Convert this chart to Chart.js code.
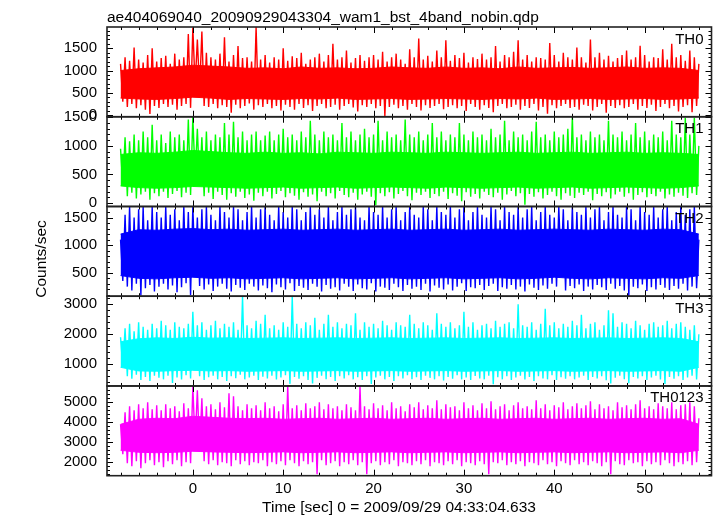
<!DOCTYPE html>
<html>
<head>
<meta charset="utf-8">
<title>WAM light curve</title>
<script src="https://cdn.jsdelivr.net/npm/chart.js@4.4.1/dist/chart.umd.min.js"></script>
<style>
  html, body { margin: 0; padding: 0; background: #fff; }
  #lc { display: block; }
</style>
</head>
<body>
<canvas id="lc" width="717" height="516"></canvas>
<script>
const plotTitle = 'ae404069040_20090929043304_wam1_bst_4band_nobin.qdp';
const xTitle = 'Time [sec] 0 = 2009/09/29 04:33:04.633';
const yTitle = 'Counts/sec';

// one peak and one trough per half second, -8 .. 56 s
const halfSeconds = [-8,-7.5,-7,-6.5,-6,-5.5,-5,-4.5,-4,-3.5,-3,-2.5,-2,-1.5,-1,-0.5,
  0,0.5,1,1.5,2,2.5,3,3.5,4,4.5,5,5.5,6,6.5,7,7.5,8,8.5,9,9.5,10,10.5,11,11.5,
  12,12.5,13,13.5,14,14.5,15,15.5,16,16.5,17,17.5,18,18.5,19,19.5,20,20.5,21,21.5,
  22,22.5,23,23.5,24,24.5,25,25.5,26,26.5,27,27.5,28,28.5,29,29.5,30,30.5,31,31.5,
  32,32.5,33,33.5,34,34.5,35,35.5,36,36.5,37,37.5,38,38.5,39,39.5,40,40.5,41,41.5,
  42,42.5,43,43.5,44,44.5,45,45.5,46,46.5,47,47.5,48,48.5,49,49.5,50,50.5,51,51.5,
  52,52.5,53,53.5,54,54.5,55,55.5,56];
// dense part of the band, every 2 s
const coreSeconds = [-8,-6,-4,-2,0,2,4,6,8,10,12,14,16,18,20,22,24,26,28,30,32,34,36,38,40,42,44,46,48,50,52,54,56];

const th0Hi = [1150,1300,1220,1520,1250,1180,1350,1500,1200,1280,
  1330,1150,1380,1250,1300,1820,1970,1700,1880,1400,
  1300,1250,1380,1750,1200,1350,1550,1280,1300,1200,
  1980,1250,1350,1180,1300,1250,1500,1220,1320,1280,
  1400,1150,1250,1300,1380,1200,1350,1600,1250,1300,
  1450,1180,1280,1350,1220,1300,1350,1250,1420,1200,
  1300,1380,1250,1150,1480,1300,1720,1250,1330,1200,
  1450,1300,1680,1220,1350,1280,1400,1180,1300,1260,
  1380,1250,1300,1550,1200,1350,1300,1420,1680,1250,
  1350,1200,1300,1280,1250,1620,1350,1200,1400,1300,
  1250,1520,1300,1180,1700,1300,1400,1250,1330,1200,
  1280,1350,1450,1250,1300,1560,1350,1200,1300,1280,
  1480,1250,1600,1300,1350,1220,1450,1300,1150];
const th0Lo = [300,180,250,150,220,120,20,200,160,250,
  180,230,120,200,250,160,650,550,200,180,
  250,150,220,180,50,230,150,200,260,120,
  220,180,250,150,200,100,230,180,120,250,
  160,220,90,200,250,150,180,230,120,200,
  250,170,80,220,180,250,150,200,-20,180,
  230,150,200,120,250,180,100,220,160,200,
  250,130,180,220,150,200,90,250,180,120,
  220,160,60,200,250,150,180,230,120,200,
  160,250,100,180,30,220,150,200,250,160,
  180,120,230,200,100,180,250,50,200,160,
  220,150,180,250,120,200,160,230,90,180,
  250,150,200,80,180,220,60,200,300];
const th0CoreHi = [1000,1040,1060,1080,1120,1100,1080,1050,1060,1040,1080,1050,1060,1040,1050,1080,1060,1050,1080,1050,1060,1040,1080,1050,1060,1070,1050,1060,1080,1050,1060,1050,1000];
const th0CoreLo = [380,360,350,370,400,380,350,370,360,350,370,360,380,350,360,370,350,360,370,360,350,370,360,380,350,360,370,350,360,370,350,360,380];

const th1Hi = [950,1150,1080,1200,1100,1250,1150,1370,1100,1200,
  1050,1250,1150,1200,1100,1460,1510,1300,1150,1250,
  1100,1200,1150,1400,1200,1420,1150,1250,1100,1200,
  1250,1100,1180,1250,1100,1200,1300,1150,1200,1100,
  1250,1150,1440,1200,1100,1250,1150,1200,1100,1400,
  1150,1250,1100,1200,1300,1150,1200,1440,1100,1250,
  1150,1200,1100,1460,1200,1150,1250,1100,1200,1400,
  1150,1250,1100,1200,1150,1400,1200,1100,1250,1150,
  1200,1100,1300,1150,1200,1440,1100,1250,1150,1200,
  1100,1250,1420,1150,1200,1100,1250,1150,1200,1300,
  1510,1150,1200,1100,1250,1150,1200,1100,1440,1200,
  1150,1250,1100,1200,1400,1150,1250,1100,1200,1150,
  1250,1100,1440,1200,1150,1490,1200,1490,1000];
const th1Lo = [300,120,180,80,150,200,60,170,120,200,
  90,160,210,100,180,140,450,300,120,180,
  70,200,140,60,170,110,200,90,150,40,
  180,120,200,80,160,210,100,170,130,60,
  190,110,150,30,200,120,170,80,210,140,
  100,180,60,150,200,110,-40,170,120,190,
  80,160,210,120,50,180,140,200,90,160,
  120,200,70,170,130,30,190,110,160,80,
  200,140,100,180,60,150,210,120,170,-30,
  160,110,190,80,140,200,120,60,170,130,
  90,180,140,200,50,160,120,190,80,150,
  200,110,170,60,140,190,100,160,120,200,
  80,150,110,180,130,90,170,140,300];
const th1CoreHi = [850,880,870,890,920,900,880,870,890,870,880,860,890,880,870,890,880,870,890,880,870,880,890,870,880,890,870,880,890,870,880,870,850];
const th1CoreLo = [300,270,260,270,290,280,270,260,270,280,260,270,280,260,270,280,270,260,280,270,260,270,280,260,270,280,260,270,280,270,260,270,300];

const th2Hi = [1100,1550,1700,1500,1650,1700,1450,1700,1600,1500,
  1700,1550,1650,1450,1700,1600,1700,1500,1650,1700,
  1550,1450,1700,1600,1500,1700,1650,1450,1600,1700,
  1500,1650,1700,1550,1450,1700,1600,1500,1700,1650,
  1450,1600,1700,1550,1650,1500,1700,1450,1600,1700,
  1550,1650,1700,1500,1450,1700,1600,1550,1700,1500,
  1650,1700,1450,1600,1700,1550,1500,1700,1650,1450,
  1700,1600,1550,1700,1500,1650,1700,1450,1600,1700,
  1550,1500,1700,1650,1450,1700,1600,1550,1700,1500,
  1650,1700,1450,1600,1700,1550,1500,1700,1650,1450,
  1700,1600,1550,1700,1500,1650,1700,1450,1600,1700,
  1550,1500,1700,1650,1450,1700,1600,1550,1700,1500,
  1650,1700,1450,1600,1700,1550,1650,1700,1100];
const th2Lo = [350,250,180,300,90,220,280,160,250,300,
  200,270,150,240,310,100,500,260,200,290,
  170,250,300,210,160,280,230,190,300,250,
  180,270,220,150,290,240,200,310,170,260,
  230,190,300,250,160,280,210,240,180,300,
  250,170,290,220,200,310,160,250,230,190,
  300,240,170,280,210,250,190,300,160,270,
  230,200,290,180,250,310,170,240,220,280,
  190,260,300,170,240,210,280,200,250,160,
  290,230,190,270,210,300,250,600,180,260,
  220,290,170,250,200,280,240,190,300,210,
  260,180,80,250,220,290,170,240,200,280,
  230,190,260,210,300,180,250,220,350];
const th2CoreHi = [1200,1280,1270,1290,1300,1280,1290,1270,1280,1290,1270,1280,1290,1270,1280,1290,1270,1280,1290,1270,1280,1290,1270,1280,1290,1280,1270,1290,1280,1270,1290,1280,1200];
const th2CoreLo = [450,400,390,410,420,400,410,390,400,410,390,400,410,390,400,410,390,400,410,390,400,410,390,400,420,400,390,410,400,390,410,400,450];

const th3Hi = [1900,2200,2350,2100,2400,2250,2150,2350,2200,2450,
  2300,2150,2400,2250,2200,2350,2750,2300,2400,2150,
  2300,2450,2200,2350,2250,2400,2150,3250,2300,2200,
  2450,2350,2650,2200,2300,2150,2400,2250,3250,2350,
  2200,2400,2300,2550,2150,2350,2650,2250,2400,2200,
  2350,2300,2700,2150,2400,2250,2350,2200,2450,2300,
  2150,2400,2300,2250,2650,2350,2200,2400,2300,2150,
  2700,2350,2250,2400,2200,2300,2750,2250,2400,2150,
  2300,2350,2200,2450,2250,2350,2400,2200,3000,2300,
  2250,2400,2150,2350,2850,2300,2400,2200,2350,2250,
  2450,2300,2650,2200,2350,2400,2150,2300,2800,2700,
  2250,2400,2350,2200,2450,2300,2150,2350,2400,2250,
  2300,2450,2200,2350,2400,2250,2150,2300,2000];
const th3Lo = [900,600,520,650,480,580,450,620,550,500,
  620,380,560,500,640,530,800,600,480,570,
  620,500,580,450,600,540,650,500,560,620,
  480,590,530,620,500,560,640,350,580,520,
  600,480,360,550,620,500,580,450,600,530,
  640,500,570,480,600,350,560,620,500,580,
  450,600,530,640,500,570,480,620,550,500,
  600,460,580,520,640,500,560,480,610,530,
  500,620,340,570,500,600,480,560,620,500,
  580,450,600,530,500,640,480,570,520,600,
  500,560,620,480,580,530,600,470,360,550,
  620,500,370,580,530,600,480,560,620,500,
  350,580,520,600,480,560,620,500,900];
const th3CoreHi = [1750,1850,1880,1860,1900,1870,1880,1860,1870,1880,1860,1870,1880,1860,1870,1880,1860,1870,1880,1860,1870,1880,1860,1870,1880,1860,1870,1880,1860,1870,1880,1860,1750];
const th3CoreLo = [900,780,770,790,800,780,790,770,780,790,770,780,790,770,780,790,770,780,790,770,780,790,770,780,790,770,780,790,770,780,790,770,900];

const th0123Hi = [3900,4500,4800,4600,4900,4700,5000,4650,4850,4600,
  4900,4700,4800,4550,4950,4700,5800,5600,5200,4800,
  4900,4650,5000,4750,5450,5300,4800,4600,4900,4700,
  4850,4600,5000,4700,4800,4550,4900,5800,4700,4850,
  4600,4950,4700,4800,5000,4650,4900,4700,4800,4600,
  4900,4750,4600,5800,4800,4650,4950,4700,4850,4600,
  5000,4700,4800,4550,4900,4750,5000,4650,4850,4700,
  5100,4650,4900,4750,4800,4600,5000,4700,4850,4600,
  4950,4700,5050,4650,4800,4900,4600,4850,5000,4700,
  4800,4650,5100,4700,4900,4600,4850,4750,5000,4650,
  4800,4950,4700,4850,5050,4650,4900,4700,4800,4600,
  5000,4750,4850,4650,4900,5100,4700,4800,4650,4950,
  4800,4700,5000,4650,4850,4900,5000,4800,4200];
const th0123Lo = [2400,1950,1800,2050,1700,1950,2100,1850,2000,1750,
  2050,1900,2100,1800,2000,1950,2900,2600,2050,1900,
  2100,1850,2000,1950,1800,2100,1900,2050,1850,2000,
  1950,2100,1800,2000,1900,2050,1850,2100,1950,1800,
  2050,1900,2000,1400,2100,1850,1950,2050,1800,2000,
  1900,2100,1850,2000,1400,1950,2050,1850,2000,1900,
  2100,1800,2000,1950,1850,2050,1900,2100,1800,2000,
  1950,1850,2050,1900,2100,1800,2000,1950,1850,2050,
  1900,1400,2000,1950,2100,1850,2000,1900,2050,1800,
  2000,1950,1850,2100,1900,2000,1800,2050,1950,1850,
  2100,1900,2000,1850,2050,1950,1800,2000,1400,2050,
  1900,1850,2100,1950,2000,1800,2050,1900,2000,1850,
  2100,1950,1800,2000,1900,2050,1850,2000,2400];
const th0123CoreHi = [3900,4150,4200,4180,4300,4250,4200,4180,4200,4150,4180,4200,4150,4180,4200,4150,4180,4200,4150,4180,4200,4150,4180,4200,4150,4180,4200,4150,4180,4200,4150,4180,3900];
const th0123CoreLo = [2600,2500,2480,2500,2550,2520,2500,2480,2500,2520,2480,2500,2520,2480,2500,2520,2480,2500,2520,2480,2500,2520,2480,2500,2520,2480,2500,2520,2480,2500,2520,2480,2600];

const timeTicks = [0, 10, 20, 30, 40, 50];
const th0Ticks = [0, 500, 1000, 1500];
const th1Ticks = [0, 500, 1000, 1500];
const th2Ticks = [500, 1000, 1500];
const th3Ticks = [1000, 2000, 3000];
const th0123Ticks = [2000, 3000, 4000, 5000];

const family = '"Liberation Sans", Arial, Helvetica, sans-serif';
const tickFont = { family: family, size: 15 };

const panels = [
  { id: 'y0', name: 'TH0', color: '#ff0000', hi: th0Hi, lo: th0Lo, coreHi: th0CoreHi, coreLo: th0CoreLo, ticks: th0Ticks, min: -40, max: 1980 },
  { id: 'y1', name: 'TH1', color: '#00ff00', hi: th1Hi, lo: th1Lo, coreHi: th1CoreHi, coreLo: th1CoreLo, ticks: th1Ticks, min: -60, max: 1510 },
  { id: 'y2', name: 'TH2', color: '#0000ff', hi: th2Hi, lo: th2Lo, coreHi: th2CoreHi, coreLo: th2CoreLo, ticks: th2Ticks, min: 76, max: 1700 },
  { id: 'y3', name: 'TH3', color: '#00ffff', hi: th3Hi, lo: th3Lo, coreHi: th3CoreHi, coreLo: th3CoreLo, ticks: th3Ticks, min: 280, max: 3265 },
  { id: 'y4', name: 'TH0123', color: '#ff00ff', hi: th0123Hi, lo: th0123Lo, coreHi: th0123CoreHi, coreLo: th0123CoreLo, ticks: th0123Ticks, min: 1330, max: 5815 }
];

function pairs(xs, ys) {
  return xs.map((x, i) => ({ x: x, y: ys[i] }));
}

// peak on the half second, trough a quarter second later
function spikes(hi, lo) {
  const pts = [];
  halfSeconds.forEach((t, i) => {
    pts.push({ x: t, y: hi[i] });
    if (i < halfSeconds.length - 1) pts.push({ x: t + 0.25, y: lo[i] });
  });
  return pts;
}

const datasets = [];
panels.forEach(p => {
  datasets.push({ data: pairs(coreSeconds, p.coreLo), yAxisID: p.id, borderColor: p.color, borderWidth: 1, pointRadius: 0, fill: false });
  datasets.push({ data: pairs(coreSeconds, p.coreHi), yAxisID: p.id, borderColor: p.color, borderWidth: 1, pointRadius: 0, fill: '-1', backgroundColor: p.color });
  datasets.push({ data: spikes(p.hi, p.lo), yAxisID: p.id, borderColor: p.color, borderWidth: 1.4, pointRadius: 0, fill: false });
});

const scales = {
  x: {
    type: 'linear', min: -9.5, max: 57.4,
    grid: { display: false, drawTicks: false }, border: { display: false },
    afterBuildTicks: s => { s.ticks = timeTicks.map(v => ({ value: v })); },
    afterFit: s => { s.height = 40.3; },
    ticks: { font: tickFont, color: '#000', padding: 4, autoSkip: false, maxRotation: 0, callback: v => String(v) }
  }
};
// left axes in a stack are laid out last-first, so TH0 goes in last to sit on top
panels.slice().reverse().forEach(p => {
  scales[p.id] = {
    type: 'linear', position: 'left', stack: 'panels', stackWeight: 1,
    min: p.min, max: p.max,
    grid: { display: false, drawTicks: false }, border: { display: false },
    afterBuildTicks: s => { s.ticks = p.ticks.map(v => ({ value: v })); },
    afterFit: s => { s.width = 107; },
    ticks: { font: tickFont, color: '#000', padding: 10, autoSkip: false, callback: v => String(v) }
  };
});

const deco = {
  id: 'deco',
  afterDraw(chart) {
    const ctx = chart.ctx;
    const xs = chart.scales.x;
    ctx.save();
    ctx.fillStyle = '#000';
    ctx.strokeStyle = '#000';
    ctx.font = '15.5px ' + family;
    ctx.textBaseline = 'alphabetic';
    ctx.textAlign = 'left';
    ctx.fillText(plotTitle, xs.left, 21.5);

    panels.forEach(p => {
      const ys = chart.scales[p.id];
      const left = xs.left, right = xs.right, top = ys.top, bottom = ys.bottom;
      ctx.lineWidth = 1;
      ctx.beginPath();
      for (let v = -8; v <= 56; v += 2) {
        const px = Math.round(xs.getPixelForValue(v)) + 0.5;
        const len = v % 10 === 0 ? 6 : 3;
        ctx.moveTo(px, top); ctx.lineTo(px, top + len);
        ctx.moveTo(px, bottom); ctx.lineTo(px, bottom - len);
      }
      const major = p.ticks[1] - p.ticks[0];
      const minor = major / 5;
      for (let v = Math.ceil(p.min / minor) * minor; v <= p.max; v += minor) {
        const py = Math.round(ys.getPixelForValue(v)) + 0.5;
        const isMajor = Math.abs(v / major - Math.round(v / major)) < 1e-6;
        const len = isMajor ? 6 : 3;
        ctx.moveTo(left, py); ctx.lineTo(left + len, py);
        ctx.moveTo(right, py); ctx.lineTo(right - len, py);
      }
      ctx.stroke();
      ctx.lineWidth = 1.6;
      ctx.strokeStyle = '#222';
      ctx.strokeRect(left, top, right - left, bottom - top);
      ctx.strokeStyle = '#000';
      ctx.font = '15px ' + family;
      ctx.textAlign = 'right';
      ctx.fillText(p.name, right - 8, top + 16.5);
    });

    ctx.font = '15.5px ' + family;
    ctx.save();
    ctx.translate(41.5, 259);
    ctx.rotate(-Math.PI / 2);
    ctx.textAlign = 'center';
    ctx.textBaseline = 'middle';
    ctx.fillText(yTitle, 0, 0);
    ctx.restore();

    ctx.textAlign = 'center';
    ctx.fillText(xTitle, 399, 512);
    ctx.restore();
  }
};

new Chart(document.getElementById('lc'), {
  type: 'line',
  data: { datasets: datasets },
  options: {
    responsive: false,
    animation: false,
    events: [],
    layout: { padding: { top: 27, right: 5.5, left: 0, bottom: 0 } },
    plugins: { legend: { display: false }, tooltip: { enabled: false } },
    scales: scales
  },
  plugins: [deco]
});
</script>
</body>
</html>
